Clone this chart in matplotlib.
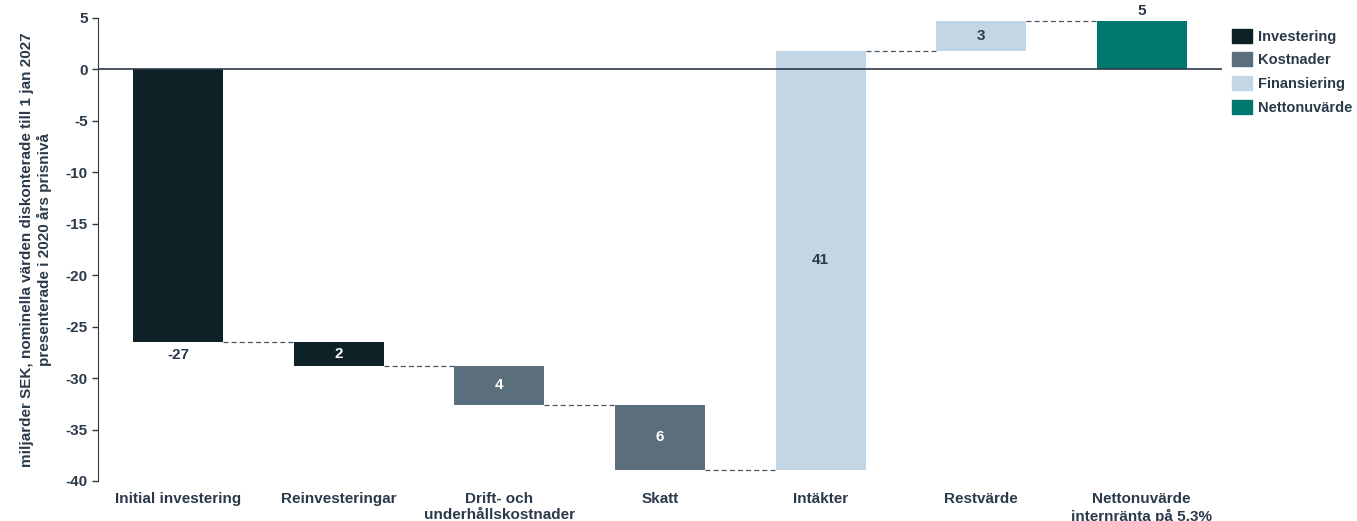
import numpy as np
import matplotlib
matplotlib.use("Agg")
import matplotlib.pyplot as plt
from matplotlib.patches import Patch

plt.rcParams["font.family"] = ["Liberation Sans", "DejaVu Sans"]
plt.rcParams["font.weight"] = "bold"
plt.rcParams["axes.unicode_minus"] = False

categories = ["Initial investering", "Reinvesteringar", "Drift- och\nunderhållskostnader",
              "Skatt", "Intäkter", "Restvärde", "Nettonuvärde\ninternränta på 5,3%"]
# signed change of each step; the last bar is the total
changes = [-26.5, -2.3, -3.8, -6.3, 40.7, 2.9]
labels = ["-27", "2", "4", "6", "41", "3", "5"]
groups = ["Investering", "Investering", "Kostnader", "Kostnader",
          "Finansiering", "Finansiering", "Nettonuvärde"]

group_colors = {
    "Investering": "#0d2127",
    "Kostnader": "#5b6e7c",
    "Finansiering": "#c3d6e6",
    "Nettonuvärde": "#00776f",
}
label_colors = ["#2b3a4a", "white", "white", "white", "#2b3a4a", "#2b3a4a", "#2b3a4a"]
text_color = "#2b3a4a"

# waterfall geometry
starts = np.concatenate([[0], np.cumsum(changes)[:-1]])
ends = np.cumsum(changes)
total = ends[-1]
bottoms = list(np.minimum(starts, ends)) + [0]
heights = list(np.abs(changes)) + [total]
levels = list(ends) + [total]

fig = plt.figure(figsize=(13.57, 5.21), dpi=100)
ax = fig.add_axes([0.0722, 0.0768, 0.8283, 0.8887])

x = np.arange(len(categories))
width = 0.56
colors = [group_colors[g] for g in groups]
ax.bar(x, heights, bottom=bottoms, width=width, color=colors, zorder=2)

# connectors
for i in range(len(categories) - 1):
    ax.plot([x[i] + width / 2, x[i + 1] - width / 2], [levels[i], levels[i]],
            color="#4a5560", lw=0.9, ls=(0, (4, 2.5)), zorder=1)

# value labels
for i in range(len(categories)):
    if i == 0:
        y = bottoms[i] - 1.3
    elif i == len(categories) - 1:
        y = bottoms[i] + heights[i] + 1.0
    else:
        y = bottoms[i] + heights[i] / 2
    ax.text(x[i], y, labels[i], ha="center", va="center", fontsize=11,
            fontweight="bold", color=label_colors[i])

ax.axhline(0, color="#2b3a4a", lw=1.2, zorder=3)

ax.set_xlim(-0.5, len(categories) - 0.5)
ax.set_ylim(-40, 5)
ax.set_yticks(np.arange(-40, 6, 5))
ax.set_xticks(x)
ax.set_xticklabels(categories)
ax.tick_params(axis="x", length=0, pad=8, labelsize=11, colors=text_color)
ax.tick_params(axis="y", length=4, width=1, labelsize=11, colors=text_color, direction="out")
for lab in ax.get_xticklabels() + ax.get_yticklabels():
    lab.set_fontweight("bold")
    lab.set_color(text_color)

for s in ["top", "right", "bottom"]:
    ax.spines[s].set_visible(False)
ax.spines["left"].set_color("#2b3a4a")

ax.set_ylabel("miljarder SEK, nominella värden diskonterade till 1 jan 2027\npresenterade i 2020 års prisnivå",
              fontsize=11, fontweight="bold", color=text_color, labelpad=10)

handles = [Patch(color=group_colors[g], label=g) for g in group_colors]
fig.legend(handles=handles, loc="upper left", bbox_to_anchor=(0.898, 0.97),
           frameon=False, handlelength=1.4, handleheight=1.1,
           labelspacing=0.6, handletextpad=0.4, labelcolor=text_color,
           prop={"weight": "bold", "size": 10.5})

fig.savefig("out.png", dpi=100)
